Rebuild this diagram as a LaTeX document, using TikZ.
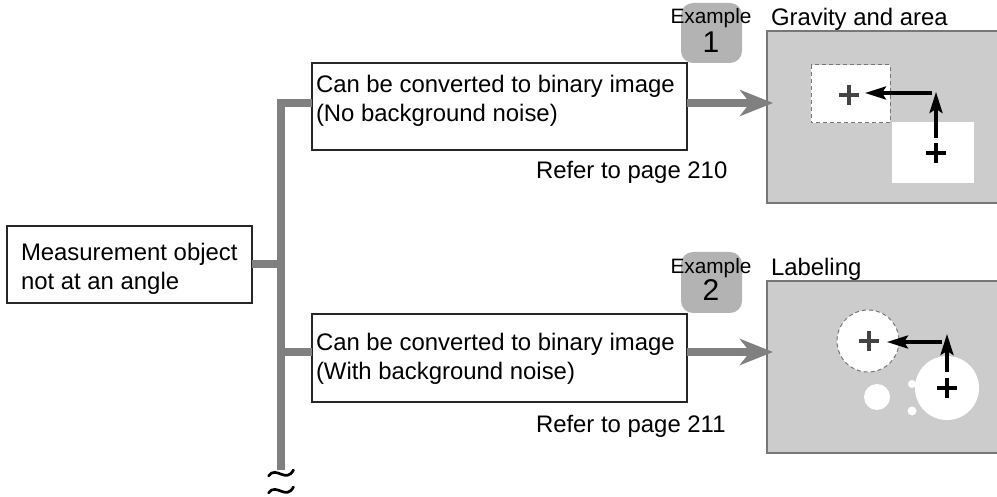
\documentclass[tikz,border=0pt]{standalone}
\usepackage{fontspec}
\setmainfont{Liberation Sans}
\usetikzlibrary{arrows.meta}
\definecolor{conn}{HTML}{808080}
\definecolor{panelfill}{HTML}{CCCCCC}
\definecolor{panelline}{HTML}{777777}
\definecolor{badgefill}{HTML}{B3B3B3}
\definecolor{plusgray}{HTML}{444444}
\newcommand{\drawplus}[3]{\draw[line width=3.5pt,#3] (#1-10,#2) -- (#1+10,#2) (#1,#2-10) -- (#1,#2+10);}
\begin{document}
\begin{tikzpicture}[x=1pt,y=-1pt,
  txt/.style={font=\fontsize{23.9}{29}\selectfont, inner sep=0pt, outer sep=0pt, align=left, anchor=north west},
  boxnode/.style={draw=black!85, line width=1.2pt, fill=white, inner sep=0pt, outer sep=0pt, anchor=north west},
  panel/.style={draw=panelline, line width=1.5pt, fill=panelfill, inner sep=0pt, outer sep=0pt, anchor=north west},
  badge/.style={fill=badgefill, rounded corners=12pt, inner sep=0pt, outer sep=0pt, anchor=north west, minimum width=61pt, minimum height=60pt},
  gconn/.style={draw=conn, line width=8pt},
  garrow/.style={gconn, -{Stealth[length=33pt,width=26pt,inset=10pt]}},
  barrow/.style={line width=3.5pt, -{Stealth[length=21pt,width=13pt,inset=4pt]}},
  exfont/.style={font=\fontsize{20.8}{24}\selectfont, inner sep=0pt, anchor=base},
  numfont/.style={font=\fontsize{30}{34}\selectfont, inner sep=0pt, anchor=base},
  tilde/.style={line width=2.7pt, line cap=round}
]
\useasboundingbox (0,0) rectangle (997,497);

% boxes
\node[boxnode, minimum width=245pt, minimum height=77pt] (b0) at (7,226) {};
\node[txt] (t0) at (21,243) {Measurement object\\not at an angle};
\node[boxnode, minimum width=375pt, minimum height=87pt] (b1) at (312,63) {};
\node[txt] (t1) at (316,75) {Can be converted to binary image\\(No background noise)};
\node[boxnode, minimum width=375pt, minimum height=88pt] (b2) at (312,314) {};
\node[txt] (t2) at (316,333) {Can be converted to binary image\\(With background noise)};
\node[txt] (r1) at (536,161) {Refer to page 210};
\node[txt] (r2) at (536,415) {Refer to page 211};

% tree connectors
\coordinate (j0) at (281,264);
\coordinate (j1) at (281,103);
\coordinate (j2) at (281,352);
\coordinate (jb) at (281,470);
\draw[gconn] (b0.east |- j0) -- ([xshift=4pt]j0);
\draw[gconn] (b1.west |- j1) -- (j1) -- (jb);
\draw[gconn] (j2) -- (b2.west |- j2);

% tildes
\draw[tilde] (268.5,476) .. controls (276,465) and (286,484) .. (293.5,470);
\draw[tilde] (268.5,493) .. controls (276,482) and (286,501) .. (293.5,487);

% panels
\node[panel, minimum width=233pt, minimum height=172pt] (p1) at (767,31) {};
\node[panel, minimum width=233pt, minimum height=172pt] (p2) at (767,281) {};
\node[txt, anchor=base west] (h1) at (771,26) {Gravity and area};
\node[txt, anchor=base west] (h2) at (771,276) {Labeling};

% arrows to panels
\coordinate (e1) at (773,103);
\coordinate (e2) at (773,352);
\draw[garrow] (b1.east |- j1) -- (e1);
\draw[garrow] (b2.east |- j2) -- (e2);

% badges
\node[badge] (g1) at (681,3) {};
\node[exfont] (x1) at (711,24) {Example};
\node[numfont] (n1) at (711,53) {1};
\node[badge, minimum height=61pt] (g2) at (681,252) {};
\node[exfont] (x2) at (711,274) {Example};
\node[numfont] (n2) at (711,301) {2};

% panel 1 content
\draw[draw=panelline, dash pattern=on 4pt off 3pt, line width=1pt, fill=white] (811,65) rectangle (890,123);
\fill[white] (892,122) rectangle (974,183);
\drawplus{849}{95}{plusgray}
\drawplus{936}{153}{black}
\coordinate (u1s) at (936,138);
\coordinate (u1e) at (936,92);
\coordinate (l1s) at (932,93);
\coordinate (l1e) at (865,93);
\draw[barrow] (u1s) -- (u1e);
\draw[barrow] (l1s) -- (l1e);

% panel 2 content
\draw[draw=panelline, dash pattern=on 4pt off 3pt, line width=1pt, fill=white] (868,341) circle[radius=31];
\fill[white] (947,388) circle[radius=32];
\fill[white] (877,397) circle[radius=13];
\fill[white] (912,384) circle[radius=4];
\fill[white] (912,411) circle[radius=4.5];
\drawplus{869}{341}{plusgray}
\drawplus{947}{388}{black}
\coordinate (u2s) at (947,372);
\coordinate (u2e) at (947,334);
\coordinate (l2s) at (942,342);
\coordinate (l2e) at (887,342);
\draw[barrow] (u2s) -- (u2e);
\draw[barrow] (l2s) -- (l2e);
\end{tikzpicture}
\end{document}
